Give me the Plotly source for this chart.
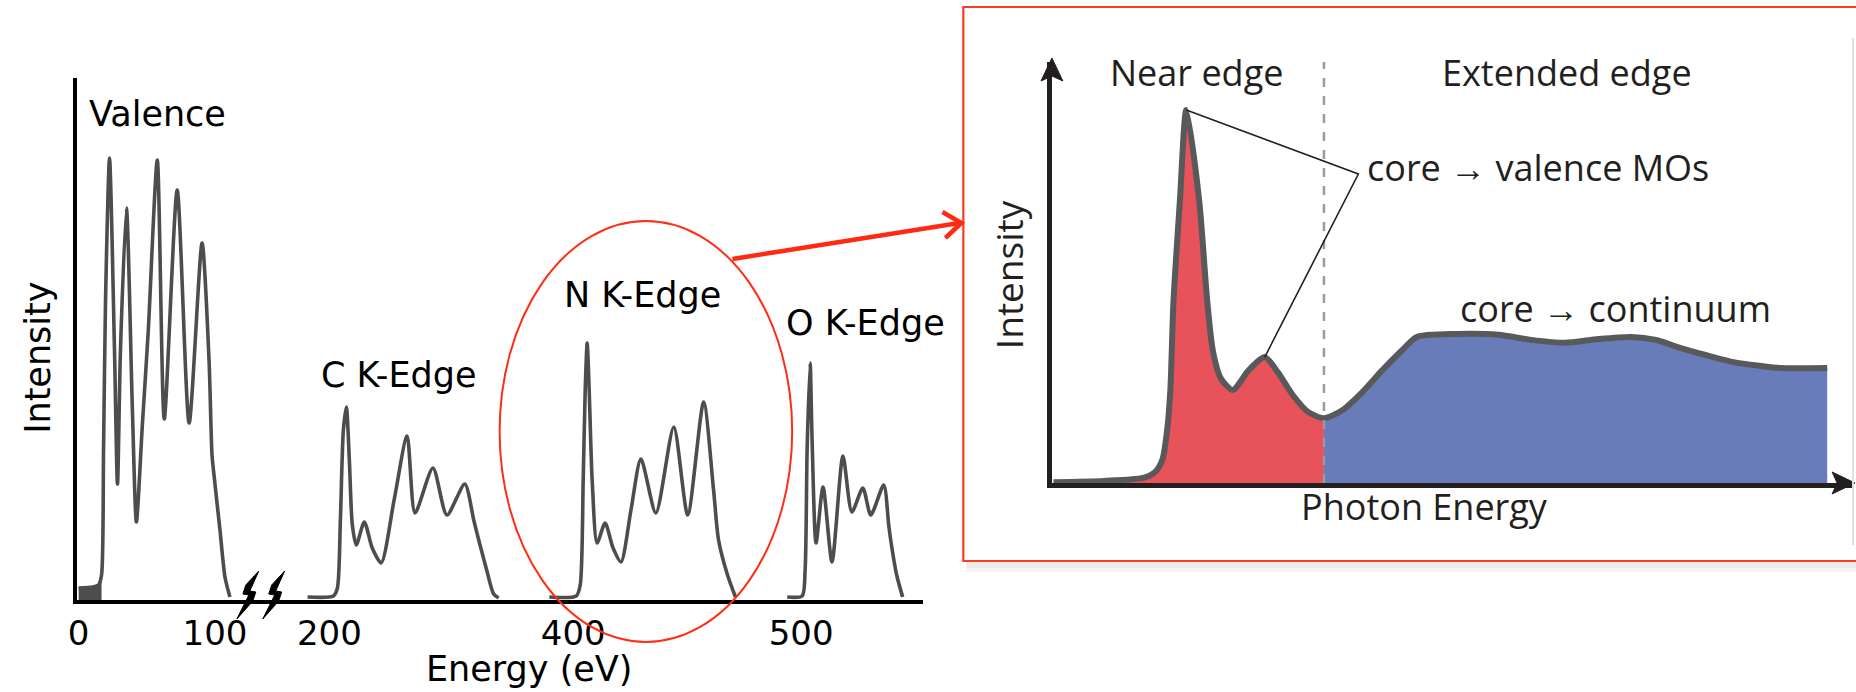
import plotly.graph_objects as go

W, H = 1856, 692

# ---------------- left panel: schematic EELS spectrum ----------------
# x is a schematic position along a broken energy axis, y is intensity (a.u.)
tick_pos = [2, 139, 254, 499, 728]
tick_text = ["0", "100", "200", "400", "500"]

valence_x = [2, 16, 22, 25, 27, 29, 33, 38, 41, 44, 50, 56, 60, 66, 72, 81, 88, 101, 113, 126, 133, 136, 138, 144, 149, 154]
valence_y = [2.4, 2.6, 3.0, 5.0, 30.0, 60.0, 88.4, 50.0, 23.2, 50.0, 78.4, 38.0, 15.6, 35.0, 54.0, 88.0, 36.2, 82.0, 35.4, 71.4, 48.0, 29.0, 25.0, 14.0, 4.6, 0.6]

c_edge_x = [232, 258, 262, 265, 268, 271, 274, 277, 281, 289, 297, 306, 319, 332, 340, 358, 372, 390, 399, 404, 412, 419, 424]
c_edge_y = [0.6, 0.8, 2.4, 16.0, 34.0, 38.6, 28.0, 15.0, 11.0, 15.6, 10.4, 7.4, 20.0, 32.8, 17.4, 26.4, 17.0, 23.2, 16.0, 12.0, 6.0, 1.2, 0.4]

n_edge_x = [475, 502, 506, 509, 511, 513, 515, 518, 523, 531, 539, 547, 557, 567, 582, 600, 614, 630, 640, 645, 654, 662]
n_edge_y = [0.6, 0.8, 3.0, 24.0, 42.0, 51.4, 42.0, 24.0, 11.4, 15.4, 10.4, 7.6, 18.0, 28.2, 17.4, 34.6, 17.0, 39.6, 22.0, 12.0, 5.0, 0.6]

o_edge_x = [714, 729, 732, 734, 737, 739, 743, 750, 759, 770, 779, 790, 798, 811, 816, 818, 824, 830]
o_edge_y = [0.6, 0.8, 6.0, 30.0, 47.4, 32.0, 11.4, 22.6, 7.6, 28.8, 17.6, 22.4, 17.0, 23.0, 15.0, 12.0, 5.0, 0.6]

# ---------------- inset: near edge / extended edge sketch ----------------
inset_x = [0.2, 6.5, 11.4, 12.9, 13.8, 14.4, 14.8, 15.2, 16.0, 16.8, 18.4, 19.4, 20.1, 21.1, 22.6,
           24.6, 26.6, 28.2, 30.1, 32.0, 34.0, 36.3, 38.8, 41.3, 43.8, 45.6, 50.6, 55.8, 59.9,
           64.1, 68.3, 72.4, 75.5, 78.2, 81.7, 85.2, 88.6, 91.0, 96.9]
inset_y = [0.2, 0.5, 1.2, 2.6, 5.5, 12.6, 22.0, 43.5, 67.2, 88.6, 67.2, 43.5, 31.6, 24.9, 22.1,
           26.8, 29.9, 26.4, 20.9, 16.9, 15.4, 17.3, 21.6, 26.8, 31.6, 34.7, 35.4, 35.2, 34.0,
           33.3, 34.2, 34.7, 34.0, 32.3, 30.4, 28.7, 27.8, 27.3, 27.3]
edge_split = 34.0          # near edge | extended edge boundary
label_anchor = (38.3, 73.4)  # elbow of the leader lines

LINE = "#4d4d4d"
RED_BOX = "#ff3a22"
CURVE = "#58595b"
INK = "#231f20"


def px(x):
    return x / W


def py(y):
    return 1 - y / H


def path(points):
    return "M " + " L ".join(f"{px(a):.5f},{py(b):.5f}" for a, b in points) + " Z"


fig = go.Figure()

spline = dict(shape="spline", smoothing=0.7)

# dark foot of the valence band
fig.add_trace(go.Scatter(x=valence_x[:4], y=valence_y[:4], mode="lines", fill="tozeroy",
                         fillcolor=LINE, line=dict(color=LINE, width=2), hoverinfo="skip"))
for xs, ys in [(valence_x, valence_y), (c_edge_x, c_edge_y), (n_edge_x, n_edge_y), (o_edge_x, o_edge_y)]:
    fig.add_trace(go.Scatter(x=xs, y=ys, mode="lines", line=dict(color=LINE, width=3.6, **spline)))

# inset fills
i_split = inset_x.index(edge_split)
fig.add_trace(go.Scatter(x=inset_x[:i_split + 1], y=inset_y[:i_split + 1], xaxis="x2", yaxis="y2",
                         mode="lines", fill="tozeroy", fillcolor="#e8535b",
                         line=dict(width=0, **spline), hoverinfo="skip"))
fig.add_trace(go.Scatter(x=inset_x[i_split:], y=inset_y[i_split:], xaxis="x2", yaxis="y2",
                         mode="lines", fill="tozeroy", fillcolor="#687cba",
                         line=dict(width=0, **spline), hoverinfo="skip"))
fig.add_trace(go.Scatter(x=inset_x, y=inset_y, xaxis="x2", yaxis="y2", mode="lines",
                         line=dict(color=CURVE, width=6, **spline)))

# peaks that the leader lines point to
i_p1 = inset_y.index(max(inset_y))
second = [(y, i) for i, (x, y) in enumerate(zip(inset_x, inset_y)) if 22.6 < x < edge_split]
i_p2 = max(second)[1]

shapes = []
# drop shadow under the inset box
shapes.append(dict(type="rect", xref="paper", yref="paper", x0=px(962), x1=px(1860), y0=py(568), y1=py(562),
                   fillcolor="rgba(0,0,0,0.08)", line=dict(width=0), layer="below"))
shapes.append(dict(type="rect", xref="paper", yref="paper", x0=px(962), x1=px(1860), y0=py(572), y1=py(568),
                   fillcolor="rgba(0,0,0,0.04)", line=dict(width=0), layer="below"))
# dashed boundary
shapes.append(dict(type="line", xref="x2", yref="y2", x0=edge_split, x1=edge_split, y0=0, y1=100,
                   line=dict(color="#9a9a9a", width=2.5, dash="dash")))
# leader lines
shapes.append(dict(type="path", xref="x2", yref="y2",
                   path=f"M {inset_x[i_p1]},{inset_y[i_p1]} L {label_anchor[0]},{label_anchor[1]} "
                        f"L {inset_x[i_p2]},{inset_y[i_p2]}",
                   line=dict(color=INK, width=1.6)))
# inset axis arrowheads
shapes.append(dict(type="path", xref="paper", yref="paper",
                   path=path([(1048, 58), (1059, 81), (1048, 76), (1037, 81)]),
                   fillcolor=INK, line=dict(color=INK, width=1)))
shapes.append(dict(type="path", xref="paper", yref="paper",
                   path=path([(1855, 483), (1832, 472), (1837, 483), (1832, 494)]),
                   fillcolor=INK, line=dict(color=INK, width=1)))
# edge of the inset picture
shapes.append(dict(type="line", xref="paper", yref="paper", x0=px(1853), x1=px(1853), y0=py(38), y1=py(545),
                   line=dict(color="#e0e0e0", width=2)))
# red frame around the inset
shapes.append(dict(type="rect", xref="paper", yref="paper", x0=px(959), x1=px(1880), y0=py(561), y1=py(7),
                   line=dict(color=RED_BOX, width=2.2)))
# axis break marks
for dx in (0, 26):
    shapes.append(dict(type="path", xref="paper", yref="paper",
                       path=path([(251 + dx, 571), (238 + dx, 585), (235 + dx, 594), (241 + dx, 595),
                                  (229 + dx, 619), (245 + dx, 601), (248 + dx, 592), (242 + dx, 591)]),
                       fillcolor="black", line=dict(color="black", width=1)))
# ellipse around the N K-edge and the arrow to the inset
shapes.append(dict(type="circle", xref="paper", yref="paper", x0=px(493), x1=px(787), y0=py(642), y1=py(221),
                   line=dict(color="#ff2d14", width=2)))
shapes.append(dict(type="line", xref="paper", yref="paper", x0=px(727), y0=py(259), x1=px(955), y1=py(223),
                   line=dict(color="#ff2a12", width=4.5)))
shapes.append(dict(type="path", xref="paper", yref="paper",
                   path=f"M {px(938)},{py(212)} L {px(957)},{py(223)} L {px(941)},{py(238)}",
                   line=dict(color="#ff2a12", width=4.5)))

LEFT_FONT = dict(family="DejaVu Sans", size=35, color="black")
INSET_FONT = dict(family="Open Sans", size=36, color=INK)

annotations = []


def label(text, x, y, font, xanchor="center", textangle=0):
    annotations.append(dict(text=text, x=px(x), y=py(y), xref="paper", yref="paper", showarrow=False,
                            xanchor=xanchor, yanchor="middle", font=font, textangle=textangle))


label("Valence", 149, 114, LEFT_FONT)
label("C K-Edge", 392, 375, LEFT_FONT)
label("N K-Edge", 637, 295, LEFT_FONT)
label("O K-Edge", 861, 323, LEFT_FONT)
label("Energy (eV)", 523, 669, LEFT_FONT)
label("Intensity", 29, 358, LEFT_FONT, textangle=-90)

label("Near edge", 1193, 72, INSET_FONT)
label("Extended edge", 1566, 72, INSET_FONT)
label("core \u2192 valence MOs", 1363, 167, INSET_FONT, xanchor="left")
label("core \u2192 continuum", 1456, 308, INSET_FONT, xanchor="left")
label("Photon Energy", 1422, 507, INSET_FONT)
label("Intensity", 1004, 275, dict(INSET_FONT, size=37), textangle=-90)

fig.update_layout(
    width=W, height=H, margin=dict(l=0, r=0, t=0, b=0),
    paper_bgcolor="white", plot_bgcolor="rgba(0,0,0,0)", showlegend=False,
    xaxis=dict(domain=[px(68), px(918)], range=[0, 850], showline=True, linecolor="black", linewidth=4,
               showgrid=False, zeroline=False, ticks="", tickvals=tick_pos, ticktext=tick_text,
               tickfont=dict(family="DejaVu Sans", size=34, color="black"), fixedrange=True),
    yaxis=dict(domain=[py(600), py(78)], range=[0, 104.4], showline=True, linecolor="black", linewidth=4,
               showgrid=False, zeroline=False, showticklabels=False, ticks="", fixedrange=True),
    xaxis2=dict(domain=[px(1048), px(1852)], range=[0, 100], anchor="y2", showline=True, linecolor=INK,
                linewidth=5, showgrid=False, zeroline=False, showticklabels=False, ticks=""),
    yaxis2=dict(domain=[py(483), py(62)], range=[0, 100], anchor="x2", showline=True, linecolor=INK,
                linewidth=5, showgrid=False, zeroline=False, showticklabels=False, ticks=""),
    shapes=shapes, annotations=annotations,
)

fig.write_html("out.html")
